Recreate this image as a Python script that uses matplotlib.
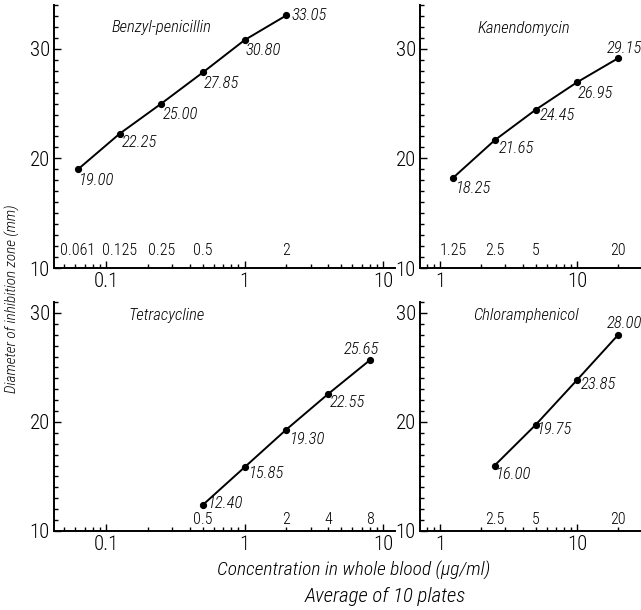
import matplotlib
matplotlib.use('Agg')
import matplotlib.pyplot as plt
from matplotlib.ticker import FixedLocator, FixedFormatter, LogLocator, NullFormatter, MultipleLocator

plt.rcParams['font.family'] = ['Roboto Condensed', 'Liberation Sans', 'DejaVu Sans']
plt.rcParams['font.weight'] = 'light'

# --- data -------------------------------------------------------------
pen_conc = [0.0625, 0.125, 0.25, 0.5, 1, 2]
pen_diam = [19.00, 22.25, 25.00, 27.85, 30.80, 33.05]
pen_conc_labels = ['0.061', '0.125', '0.25', '0.5', '', '2']

kan_conc = [1.25, 2.5, 5, 10, 20]
kan_diam = [18.25, 21.65, 24.45, 26.95, 29.15]
kan_conc_labels = ['1.25', '2.5', '5', '', '20']

tet_conc = [0.5, 1, 2, 4, 8]
tet_diam = [12.40, 15.85, 19.30, 22.55, 25.65]
tet_conc_labels = ['0.5', '', '2', '4', '8']

chl_conc = [2.5, 5, 10, 20]
chl_diam = [16.00, 19.75, 23.85, 28.00]
chl_conc_labels = ['2.5', '5', '', '20']

names = ['Benzyl-penicillin', 'Kanendomycin', 'Tetracycline', 'Chloramphenicol']
y_ticks = [10, 20, 30]
x_ticks = [0.1, 1, 10]
x_tick_labels = ['0.1', '1', '10']

# --- layout (pixels -> figure fraction) --------------------------------
W, H = 641, 610
fig = plt.figure(figsize=(W / 100, H / 100), dpi=100)
fig.patch.set_facecolor('white')

def px_axes(x0, y0, x1, y1):
    return fig.add_axes([x0 / W, 1 - y1 / H, (x1 - x0) / W, (y1 - y0) / H])

ax_tl = px_axes(54, 5, 395, 268)
ax_tr = px_axes(420, 5, 641, 268)
ax_bl = px_axes(54, 302, 395, 531)
ax_br = px_axes(420, 302, 641, 531)

# label placement: (dx, dy) in pixels, ha, va  -- one per point
tl_offsets = [(1, -4, 'left', 'top'), (2, -1, 'left', 'top'), (1, -3, 'left', 'top'),
              (1, -4, 'left', 'top'), (1, -3, 'left', 'top'), (5, 0, 'left', 'center')]
tr_offsets = [(3, -3, 'left', 'top'), (4, -1, 'left', 'top'), (4, 2, 'left', 'top'),
              (1, -4, 'left', 'top'), (6, 2, 'center', 'bottom')]
bl_offsets = [(5, 1, 'left', 'center'), (4, 1, 'left', 'top'), (4, -2, 'left', 'top'),
              (2, -1, 'left', 'top'), (-8, 3, 'center', 'bottom')]
br_offsets = [(1, -1, 'left', 'top'), (1, 3, 'left', 'top'), (4, 3, 'left', 'top'),
              (6, 4, 'center', 'bottom')]

# axes, x, y, conc labels, name, offsets, xlim, ylim, conc-label height, title pos (px)
panels = [
    (ax_tl, pen_conc, pen_diam, pen_conc_labels, names[0], tl_offsets, (0.042, 12.2), (10, 34), 11.6, (112, 27)),
    (ax_tr, kan_conc, kan_diam, kan_conc_labels, names[1], tr_offsets, (0.714, 29.3), (10, 34), 11.6, (478, 28)),
    (ax_bl, tet_conc, tet_diam, tet_conc_labels, names[2], bl_offsets, (0.042, 12.2), (10, 31), 11.1, (128, 315)),
    (ax_br, chl_conc, chl_diam, chl_conc_labels, names[3], br_offsets, (0.714, 29.3), (10, 31), 11.1, (473, 315)),
]

for ax, conc, diam, clabels, name, offs, xlim, ylim, ly, tpos in panels:
    ax.plot(conc, diam, color='black', lw=1.4, marker='o', ms=4.2, zorder=3)
    ax.set_xscale('log')
    ax.set_xlim(*xlim)
    ax.set_ylim(*ylim)

    for s in ['top', 'right']:
        ax.spines[s].set_visible(False)
    for s in ['left', 'bottom']:
        ax.spines[s].set_linewidth(1.4)

    ax.xaxis.set_major_locator(FixedLocator(x_ticks))
    ax.xaxis.set_major_formatter(FixedFormatter(x_tick_labels))
    ax.xaxis.set_minor_locator(LogLocator(base=10, subs=range(2, 10)))
    ax.xaxis.set_minor_formatter(NullFormatter())
    ax.yaxis.set_major_locator(FixedLocator(y_ticks))
    ax.yaxis.set_minor_locator(MultipleLocator(1))

    ax.tick_params(which='both', direction='in', width=1.0, labelsize=15)
    ax.tick_params(which='major', length=5)
    ax.tick_params(which='minor', length=3)
    ax.tick_params(axis='x', which='major', pad=3)
    ax.tick_params(axis='y', which='major', pad=3)

    # value labels next to each point
    for xv, yv, (dx, dy, ha, va) in zip(conc, diam, offs):
        ax.annotate(f'{yv:.2f}', (xv, yv), xytext=(dx, dy), textcoords='offset pixels',
                    ha=ha, va=va, fontsize=12, style='italic')

    # concentration labels above the axis
    for xv, lab in zip(conc, clabels):
        if lab:
            ax.text(xv, ly, lab, ha='center', va='center', fontsize=11.5)

    fig.text(tpos[0] / W, 1 - tpos[1] / H, name, ha='left', va='center',
             fontsize=12, style='italic')

fig.text(12 / W, 1 - 299 / H, 'Diameter of inhibition zone (mm)', rotation=90,
         ha='center', va='center', fontsize=11, style='italic')
fig.text(354 / W, 1 - 570 / H, 'Concentration in whole blood (μg/ml)',
         ha='center', va='center', fontsize=14, style='italic')
fig.text(385 / W, 1 - 597 / H, 'Average of 10 plates',
         ha='center', va='center', fontsize=15, style='italic')

fig.savefig('out.png', dpi=100)
